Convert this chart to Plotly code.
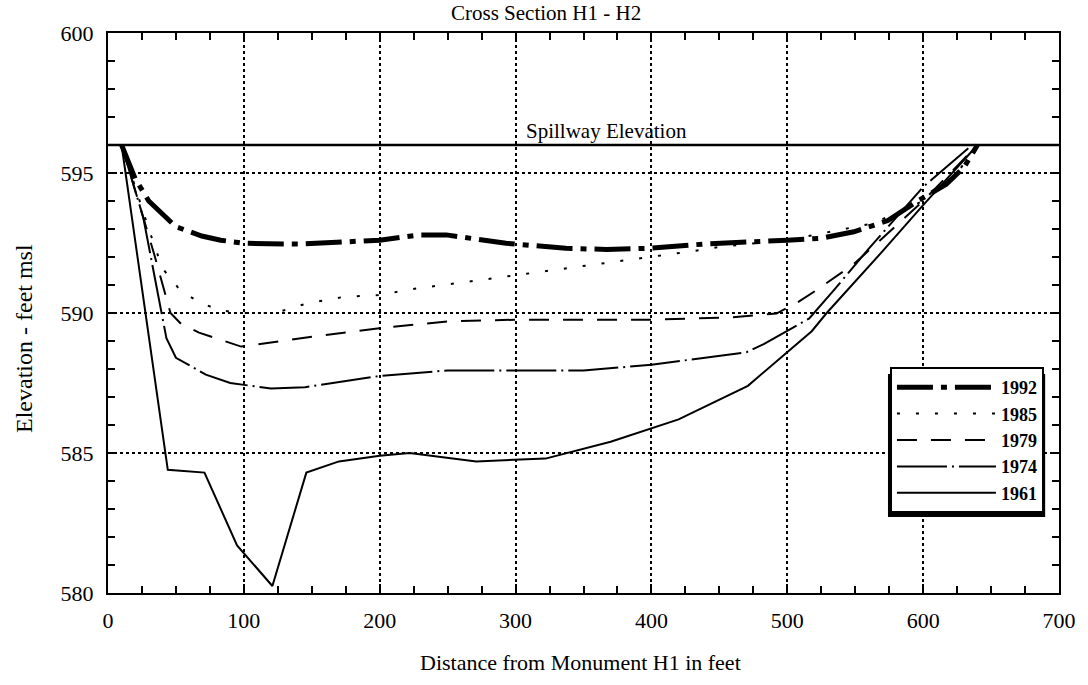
import plotly.graph_objects as go

# ---- data ----
x1992 = [10, 20, 30, 43, 50, 69, 83, 100, 140, 200, 229, 249, 293, 337, 367, 397, 438, 500, 525, 549, 574, 596, 617, 630, 640]
y1992 = [596, 594.8, 594.0, 593.38, 593.08, 592.75, 592.6, 592.49, 592.46, 592.6, 592.79, 592.79, 592.49, 592.31, 592.27, 592.31, 592.46, 592.6, 592.67, 592.9, 593.3, 594.0, 594.6, 595.2, 596]

x1985 = [10, 30, 40, 54, 68, 82, 97, 123, 147, 174, 200, 227, 247, 293, 321, 348, 373, 400, 429, 451, 500, 563, 600, 625, 640]
y1985 = [596, 593.0, 591.6, 590.76, 590.37, 590.1, 590.0, 590.0, 590.35, 590.58, 590.64, 590.88, 591.0, 591.3, 591.48, 591.66, 591.84, 592.0, 592.2, 592.37, 592.6, 593.2, 594.0, 595.0, 596]

x1979 = [10, 34, 46, 54, 67, 80, 98, 150, 200, 250, 300, 400, 460, 492, 507, 521, 549, 573, 600, 640]
y1979 = [596, 592.1, 590.0, 589.6, 589.3, 589.1, 588.8, 589.15, 589.46, 589.7, 589.76, 589.76, 589.85, 589.98, 590.36, 590.8, 591.75, 592.8, 594.0, 596]

x1974 = [10, 26, 43, 50, 72, 90, 120, 145, 200, 250, 300, 350, 400, 470, 483, 516, 534, 560, 600, 636]
y1974 = [596, 593.4, 589.1, 588.4, 587.8, 587.5, 587.3, 587.35, 587.75, 587.95, 587.95, 587.95, 588.15, 588.6, 588.9, 589.8, 590.8, 592.3, 594.5, 596]

x1961 = [10, 44, 71, 95, 121, 146, 170, 200, 222, 271, 322, 370, 420, 471, 518, 529, 570, 600, 640]
y1961 = [596, 584.4, 584.3, 581.7, 580.25, 584.3, 584.7, 584.9, 585.0, 584.7, 584.8, 585.4, 586.2, 587.4, 589.35, 590.0, 592.2, 593.85, 596]

spillway_elev = 596
x_ticks = [0, 100, 200, 300, 400, 500, 600, 700]
y_ticks = [580, 585, 590, 595, 600]

FONT = "Liberation Serif"

fig = go.Figure()

series = [
    ("1992", x1992, y1992, dict(color="black", width=5, dash="36px,8px,6px,8px")),
    ("1985", x1985, y1985, dict(color="black", width=2, dash="3px,16px")),
    ("1979", x1979, y1979, dict(color="black", width=2, dash="20px,14px")),
    ("1974", x1974, y1974, dict(color="black", width=2, dash="50px,5px,2px,5px")),
    ("1961", x1961, y1961, dict(color="black", width=2)),
]
for name, xs, ys, ln in series:
    fig.add_trace(go.Scatter(x=xs, y=ys, mode="lines", name=name, line=ln))

# spillway line
fig.add_hline(y=spillway_elev, line=dict(color="black", width=2.5), layer="above")
fig.add_annotation(x=367, y=spillway_elev, yshift=14, text="Spillway Elevation",
                   showarrow=False, font=dict(family=FONT, size=21, color="black"))

W, H = 1088, 685
L, R, T, B = 108, 18, 33, 92
pw, ph = W - L - R, H - T - B

def px2paper_x(p):
    return (p - L) / pw

def px2paper_y(p):
    return (H - B - p) / ph

# legend shadow
fig.add_shape(type="rect", xref="paper", yref="paper",
              x0=px2paper_x(897), x1=px2paper_x(1056),
              y0=px2paper_y(517), y1=px2paper_y(374),
              fillcolor="black", line=dict(width=0), layer="above")

axis_common = dict(
    showline=True, linecolor="black", linewidth=2, mirror="allticks",
    ticks="inside", ticklen=9, tickwidth=1.5, tickcolor="black",
    showgrid=True, gridcolor="black", gridwidth=1.5, griddash="dot",
    zeroline=False,
    tickfont=dict(family=FONT, size=22, color="black"),
)

fig.update_xaxes(range=[0, 700], tickvals=x_ticks, ticklabelstandoff=7,
                 minor=dict(dtick=25, ticks="inside", ticklen=7, tickwidth=1.5,
                            tickcolor="black", showgrid=False),
                 **axis_common)
fig.update_yaxes(range=[580, 600], tickvals=y_ticks, ticklabelstandoff=8,
                 minor=dict(dtick=1, ticks="inside", ticklen=7, tickwidth=1.5,
                            tickcolor="black", showgrid=False),
                 **axis_common)

text_common = dict(xref="paper", yref="paper", showarrow=False,
                   xanchor="center", yanchor="middle")
fig.add_annotation(x=px2paper_x(551), y=px2paper_y(13),
                   text="Cross Section H1 - H2",
                   font=dict(family=FONT, size=21, color="black"), **text_common)
fig.add_annotation(x=px2paper_x(586), y=px2paper_y(662),
                   text="Distance from Monument H1 in feet",
                   font=dict(family=FONT, size=22, color="black"), **text_common)
fig.add_annotation(x=px2paper_x(23), y=px2paper_y(338),
                   text="Elevation - feet msl", textangle=-90,
                   font=dict(family=FONT, size=24, color="black"), **text_common)

fig.update_layout(
    width=W, height=H,
    margin=dict(l=L, r=R, t=T, b=B),
    paper_bgcolor="white", plot_bgcolor="white",
    showlegend=True,
    legend=dict(x=px2paper_x(899), y=px2paper_y(367), xanchor="left", yanchor="top",
                bgcolor="white", bordercolor="black", borderwidth=2,
                itemwidth=99, tracegroupgap=0,
                font=dict(family=FONT, size=18, color="black", weight="bold")),
)

fig.write_html("out.html")
